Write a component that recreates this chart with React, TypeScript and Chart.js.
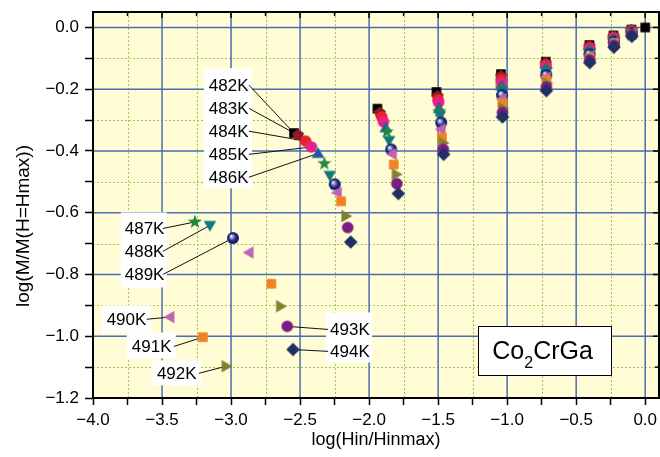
import { useEffect, useRef } from 'react';
import { Chart, registerables } from 'chart.js';

Chart.register(...registerables);

const FONT = "'Liberation Sans', Arial, sans-serif";

// Axis ticks (log units)
const X_TICKS = [-4, -3.75, -3.5, -3.25, -3, -2.75, -2.5, -2.25, -2, -1.75, -1.5, -1.25, -1, -0.75, -0.5, -0.25, 0];
const X_LABELLED = [-4, -3.5, -3, -2.5, -2, -1.5, -1, -0.5, 0];
const Y_TICKS = [0, -0.1, -0.2, -0.3, -0.4, -0.5, -0.6, -0.7, -0.8, -0.9, -1.0, -1.1, -1.2];
const Y_LABELLED = [0, -0.2, -0.4, -0.6, -0.8, -1.0, -1.2];

// Grid lines
const X_MAJOR_GRID = [-3.5, -3, -2.5, -2, -1.5, -1, -0.5, 0];
const X_MINOR_GRID = [-3.75, -3.25, -2.75, -2.25, -1.75, -1.25, -0.75, -0.25];
const Y_MAJOR_GRID = [0, -0.2, -0.4, -0.6, -0.8, -1.0];
const Y_MINOR_GRID = [-0.1, -0.3, -0.5, -0.7, -0.9, -1.1];

// [log(Hin/Hinmax), log(M/M(H=Hmax))] per temperature
const T482: [number, number][] = [[-2.544, -0.342], [-1.940, -0.263], [-1.512, -0.209], [-1.045, -0.151], [-0.720, -0.111], [-0.404, -0.057], [-0.230, -0.026], [-0.100, -0.007], [0, 0]];
const T483: [number, number][] = [[-2.515, -0.349], [-1.922, -0.277], [-1.504, -0.223], [-1.044, -0.158], [-0.720, -0.116], [-0.404, -0.061], [-0.229, -0.029], [-0.100, -0.009]];
const T484: [number, number][] = [[-2.460, -0.368], [-1.908, -0.290], [-1.500, -0.234], [-1.043, -0.168], [-0.720, -0.121], [-0.404, -0.065], [-0.229, -0.032], [-0.100, -0.011]];
const T485: [number, number][] = [[-2.418, -0.387], [-1.896, -0.306], [-1.497, -0.243], [-1.042, -0.180], [-0.719, -0.127], [-0.404, -0.069], [-0.228, -0.035], [-0.100, -0.013]];
const T486: [number, number][] = [[-2.370, -0.408], [-1.879, -0.325], [-1.494, -0.262], [-1.041, -0.190], [-0.719, -0.132], [-0.404, -0.073], [-0.228, -0.038], [-0.099, -0.015]];
const T487: [number, number][] = [[-3.262, -0.630], [-2.324, -0.441], [-1.872, -0.338], [-1.492, -0.272], [-1.040, -0.198], [-0.718, -0.137], [-0.404, -0.077], [-0.228, -0.040], [-0.099, -0.016]];
const T488: [number, number][] = [[-3.153, -0.641], [-2.285, -0.479], [-1.855, -0.366], [-1.487, -0.285], [-1.039, -0.207], [-0.718, -0.144], [-0.403, -0.082], [-0.227, -0.043], [-0.099, -0.018]];
const T489: [number, number][] = [[-2.986, -0.682], [-2.249, -0.508], [-1.840, -0.395], [-1.478, -0.308], [-1.037, -0.219], [-0.717, -0.155], [-0.403, -0.087], [-0.227, -0.046], [-0.098, -0.019]];
const T490: [number, number][] = [[-3.444, -0.938], [-2.871, -0.729], [-2.232, -0.535], [-1.833, -0.410], [-1.480, -0.330], [-1.037, -0.232], [-0.717, -0.162], [-0.403, -0.093], [-0.227, -0.049], [-0.098, -0.020]];
const T491: [number, number][] = [[-3.204, -1.003], [-2.708, -0.830], [-2.203, -0.563], [-1.821, -0.444], [-1.472, -0.357], [-1.035, -0.246], [-0.716, -0.171], [-0.402, -0.099], [-0.226, -0.053], [-0.098, -0.022]];
const T492: [number, number][] = [[-3.035, -1.097], [-2.640, -0.903], [-2.167, -0.611], [-1.802, -0.476], [-1.462, -0.374], [-1.030, -0.262], [-0.710, -0.181], [-0.398, -0.103], [-0.223, -0.056], [-0.096, -0.023]];
const T493: [number, number][] = [[-2.593, -0.968], [-2.155, -0.648], [-1.799, -0.506], [-1.462, -0.395], [-1.034, -0.276], [-0.716, -0.193], [-0.402, -0.106], [-0.226, -0.058], [-0.097, -0.024]];
const T494: [number, number][] = [[-2.551, -1.043], [-2.133, -0.695], [-1.788, -0.538], [-1.460, -0.411], [-1.034, -0.290], [-0.716, -0.205], [-0.402, -0.114], [-0.226, -0.064], [-0.097, -0.029]];

type Shape = 'square' | 'pentagon' | 'circle' | 'triUp' | 'triDown' | 'triLeft' | 'triRight' | 'star' | 'sphere' | 'diamond';

const SERIES: { name: string; color: string; shape: Shape; points: [number, number][] }[] = [
  { name: '482K', color: '#000000', shape: 'square', points: T482 },
  { name: '483K', color: '#8a1c24', shape: 'pentagon', points: T483 },
  { name: '484K', color: '#e8232a', shape: 'circle', points: T484 },
  { name: '485K', color: '#e8208a', shape: 'circle', points: T485 },
  { name: '486K', color: '#1f5aa8', shape: 'triUp', points: T486 },
  { name: '487K', color: '#1f8a3e', shape: 'star', points: T487 },
  { name: '488K', color: '#13787a', shape: 'triDown', points: T488 },
  { name: '489K', color: '#1e2a82', shape: 'sphere', points: T489 },
  { name: '490K', color: '#c062b0', shape: 'triLeft', points: T490 },
  { name: '491K', color: '#f08222', shape: 'square', points: T491 },
  { name: '492K', color: '#838032', shape: 'triRight', points: T492 },
  { name: '493K', color: '#7a1c82', shape: 'circle', points: T493 },
  { name: '494K', color: '#1f3064', shape: 'diamond', points: T494 },
];

// Label boxes [x0, yTop, x1, yBottom] and label rows, in axis units
const LABEL_GROUPS: { box: [number, number, number, number]; rows: { series: string; text: [number, number]; from: [number, number] }[] }[] = [
  {
    box: [-3.197, -0.132, -2.848, -0.521],
    rows: [
      { series: '482K', text: [-3.161, -0.187], from: [-2.870, -0.187] },
      { series: '483K', text: [-3.161, -0.262], from: [-2.870, -0.262] },
      { series: '484K', text: [-3.161, -0.336], from: [-2.870, -0.336] },
      { series: '485K', text: [-3.161, -0.411], from: [-2.870, -0.411] },
      { series: '486K', text: [-3.161, -0.485], from: [-2.870, -0.485] },
    ],
  },
  {
    box: [-3.799, -0.599, -3.465, -0.842],
    rows: [
      { series: '487K', text: [-3.770, -0.651], from: [-3.494, -0.651] },
      { series: '488K', text: [-3.770, -0.725], from: [-3.494, -0.725] },
      { series: '489K', text: [-3.770, -0.800], from: [-3.494, -0.800] },
    ],
  },
  { box: [-3.936, -0.900, -3.581, -0.988], rows: [{ series: '490K', text: [-3.901, -0.945], from: [-3.611, -0.945] }] },
  { box: [-3.755, -0.988, -3.400, -1.072], rows: [{ series: '491K', text: [-3.719, -1.033], from: [-3.414, -1.033] }] },
  { box: [-3.573, -1.078, -3.218, -1.159], rows: [{ series: '492K', text: [-3.537, -1.120], from: [-3.233, -1.120] }] },
  {
    box: [-2.312, -0.923, -1.978, -1.085],
    rows: [
      { series: '493K', text: [-2.283, -0.978], from: [-2.297, -0.978] },
      { series: '494K', text: [-2.283, -1.049], from: [-2.297, -1.049] },
    ],
  },
];

const COMPOUND_BOX: [number, number, number, number] = [-1.209, -0.968, -0.244, -1.127];

function makeMarker(shape: Shape, color: string): HTMLCanvasElement {
  const size = 18;
  const c = document.createElement('canvas');
  c.width = size;
  c.height = size;
  const ctx = c.getContext('2d')!;
  ctx.translate(size / 2, size / 2);
  ctx.fillStyle = color;
  const poly = (r: number, n: number, start: number) => {
    ctx.beginPath();
    for (let i = 0; i < n; i++) {
      const a = start + (i * 2 * Math.PI) / n;
      const px = r * Math.cos(a);
      const py = r * Math.sin(a);
      if (i === 0) ctx.moveTo(px, py);
      else ctx.lineTo(px, py);
    }
    ctx.closePath();
    ctx.fill();
  };
  switch (shape) {
    case 'square':
      ctx.fillRect(-4.8, -4.8, 9.6, 9.6);
      break;
    case 'pentagon':
      poly(6.3, 5, -Math.PI / 2);
      break;
    case 'circle':
      ctx.beginPath();
      ctx.arc(0, 0, 5.8, 0, Math.PI * 2);
      ctx.fill();
      break;
    case 'triUp':
      ctx.translate(0, 1);
      poly(7.2, 3, -Math.PI / 2);
      break;
    case 'triDown':
      ctx.translate(0, -1);
      poly(7.2, 3, Math.PI / 2);
      break;
    case 'triLeft':
      ctx.translate(1, 0);
      poly(7.2, 3, Math.PI);
      break;
    case 'triRight':
      ctx.translate(-1, 0);
      poly(7.2, 3, 0);
      break;
    case 'star': {
      ctx.beginPath();
      for (let i = 0; i < 10; i++) {
        const r = i % 2 === 0 ? 7.4 : 3.0;
        const a = -Math.PI / 2 + (i * Math.PI) / 5;
        const px = r * Math.cos(a);
        const py = r * Math.sin(a);
        if (i === 0) ctx.moveTo(px, py);
        else ctx.lineTo(px, py);
      }
      ctx.closePath();
      ctx.fill();
      break;
    }
    case 'sphere': {
      const g = ctx.createRadialGradient(-1.8, -2, 0.3, 0, 0, 6);
      g.addColorStop(0, '#ffffff');
      g.addColorStop(0.25, '#8c94d0');
      g.addColorStop(0.6, color);
      g.addColorStop(1, '#10185a');
      ctx.fillStyle = g;
      ctx.beginPath();
      ctx.arc(0, 0, 6, 0, Math.PI * 2);
      ctx.fill();
      break;
    }
    case 'diamond':
      poly(6.8, 4, -Math.PI / 2);
      break;
  }
  return c;
}

const near = (a: number, list: number[]) => list.some((v) => Math.abs(v - a) < 1e-9);
const fmt = (v: number) => v.toFixed(1).replace('-', '\u2212');

const decorPlugin = {
  id: 'decor',
  beforeDraw(chart: any) {
    const { ctx, chartArea: a } = chart;
    ctx.save();
    ctx.fillStyle = '#ffffff';
    ctx.fillRect(0, 0, chart.width, chart.height);
    ctx.fillStyle = '#fffcd6';
    ctx.fillRect(a.left, a.top, a.right - a.left, a.bottom - a.top);
    ctx.restore();
  },
  beforeDatasetsDraw(chart: any) {
    const { ctx, chartArea: a, scales } = chart;
    const xs = scales.x;
    const ys = scales.y;
    ctx.save();
    // minor grid
    ctx.strokeStyle = '#94cc55';
    ctx.lineWidth = 1;
    ctx.setLineDash([2, 2]);
    for (const v of X_MINOR_GRID) {
      const px = Math.round(xs.getPixelForValue(v)) + 0.5;
      ctx.beginPath();
      ctx.moveTo(px, a.top);
      ctx.lineTo(px, a.bottom);
      ctx.stroke();
    }
    for (const v of Y_MINOR_GRID) {
      const py = Math.round(ys.getPixelForValue(v)) + 0.5;
      ctx.beginPath();
      ctx.moveTo(a.left, py);
      ctx.lineTo(a.right, py);
      ctx.stroke();
    }
    // major grid
    ctx.setLineDash([]);
    ctx.strokeStyle = '#4a6db0';
    ctx.lineWidth = 1.5;
    for (const v of X_MAJOR_GRID) {
      const px = xs.getPixelForValue(v);
      ctx.beginPath();
      ctx.moveTo(px, a.top);
      ctx.lineTo(px, a.bottom);
      ctx.stroke();
    }
    for (const v of Y_MAJOR_GRID) {
      const py = ys.getPixelForValue(v);
      ctx.beginPath();
      ctx.moveTo(a.left, py);
      ctx.lineTo(a.right, py);
      ctx.stroke();
    }

    // label boxes with leader lines
    ctx.font = `17px ${FONT}`;
    ctx.textBaseline = 'middle';
    ctx.textAlign = 'left';
    for (const g of LABEL_GROUPS) {
      const x0 = xs.getPixelForValue(g.box[0]);
      const y0 = ys.getPixelForValue(g.box[1]);
      const x1 = xs.getPixelForValue(g.box[2]);
      const y1 = ys.getPixelForValue(g.box[3]);
      ctx.fillStyle = '#ffffff';
      ctx.fillRect(x0, y0, x1 - x0, y1 - y0);
    }
    for (const g of LABEL_GROUPS) {
      for (const r of g.rows) {
        const s = SERIES.find((d) => d.name === r.series)!;
        const target = s.points[0];
        ctx.strokeStyle = '#111111';
        ctx.lineWidth = 1;
        ctx.beginPath();
        ctx.moveTo(xs.getPixelForValue(r.from[0]), ys.getPixelForValue(r.from[1]));
        ctx.lineTo(xs.getPixelForValue(target[0]), ys.getPixelForValue(target[1]));
        ctx.stroke();
        ctx.fillStyle = '#000000';
        ctx.fillText(r.series, xs.getPixelForValue(r.text[0]), ys.getPixelForValue(r.text[1]) + 1);
      }
    }
    ctx.restore();
  },
  afterDatasetsDraw(chart: any) {
    const { ctx, chartArea: a, scales } = chart;
    const xs = scales.x;
    const ys = scales.y;
    ctx.save();
    // frame
    ctx.strokeStyle = '#000000';
    ctx.lineWidth = 2;
    ctx.strokeRect(a.left, a.top, a.right - a.left, a.bottom - a.top);
    // inward ticks on top and right
    ctx.lineWidth = 1.5;
    for (const v of X_TICKS) {
      const px = xs.getPixelForValue(v);
      ctx.beginPath();
      ctx.moveTo(px, a.top);
      ctx.lineTo(px, a.top + (near(v, X_LABELLED) ? 6 : 4));
      ctx.stroke();
    }
    for (const v of Y_TICKS) {
      const py = ys.getPixelForValue(v);
      ctx.beginPath();
      ctx.moveTo(a.right, py);
      ctx.lineTo(a.right - (near(v, Y_LABELLED) ? 6 : 4), py);
      ctx.stroke();
    }
    // compound name
    const bx0 = xs.getPixelForValue(COMPOUND_BOX[0]);
    const by0 = ys.getPixelForValue(COMPOUND_BOX[1]);
    const bx1 = xs.getPixelForValue(COMPOUND_BOX[2]);
    const by1 = ys.getPixelForValue(COMPOUND_BOX[3]);
    ctx.fillStyle = '#ffffff';
    ctx.fillRect(bx0, by0, bx1 - bx0, by1 - by0);
    ctx.lineWidth = 1;
    ctx.strokeRect(Math.round(bx0) + 0.5, Math.round(by0) + 0.5, Math.round(bx1 - bx0), Math.round(by1 - by0));
    ctx.fillStyle = '#000000';
    ctx.textBaseline = 'alphabetic';
    ctx.textAlign = 'left';
    const base = (by0 + by1) / 2 + 8;
    let tx = bx0 + 14;
    ctx.font = `25px ${FONT}`;
    ctx.fillText('Co', tx, base);
    tx += ctx.measureText('Co').width;
    ctx.font = `16px ${FONT}`;
    ctx.fillText('2', tx, base + 9);
    tx += ctx.measureText('2').width;
    ctx.font = `25px ${FONT}`;
    ctx.fillText('CrGa', tx, base);
    ctx.restore();
  },
  afterDraw(chart: any) {
    const { ctx, chartArea: a } = chart;
    ctx.save();
    ctx.fillStyle = '#000000';
    ctx.font = `18px ${FONT}`;
    ctx.textAlign = 'center';
    ctx.textBaseline = 'middle';
    ctx.fillText('log(Hin/Hinmax)', (a.left + a.right) / 2, 440);
    ctx.font = `19px ${FONT}`;
    ctx.translate(24, 226);
    ctx.rotate(-Math.PI / 2);
    ctx.fillText('log(M/M(H=Hmax))', 0, 0);
    ctx.restore();
  },
};

export default function App() {
  const canvasRef = useRef<HTMLCanvasElement | null>(null);

  useEffect(() => {
    const canvas = canvasRef.current;
    if (!canvas) return;
    // higher temperatures are stacked above lower ones
    const datasets = SERIES.map((s, i) => ({
      label: s.name,
      data: s.points.map(([x, y]) => ({ x, y })),
      pointStyle: makeMarker(s.shape, s.color),
      pointRadius: 6,
      showLine: false,
      order: -i,
      backgroundColor: s.color,
      borderColor: s.color,
    }));

    const chart = new Chart(canvas, {
      type: 'scatter',
      data: { datasets },
      options: {
        responsive: false,
        animation: false,
        devicePixelRatio: 1,
        layout: { autoPadding: false, padding: { top: 12, right: 1, left: 0, bottom: 0 } },
        plugins: { legend: { display: false }, tooltip: { enabled: false } },
        scales: {
          x: {
            type: 'linear',
            min: -4,
            max: 0.1,
            afterBuildTicks: (axis: any) => {
              axis.ticks = X_TICKS.map((value) => ({ value }));
            },
            afterFit: (scale: any) => {
              scale.height = 59;
              scale.paddingLeft = 0;
              scale.paddingRight = 0;
            },
            border: { display: false },
            grid: { drawOnChartArea: false, drawTicks: true, tickLength: 7, tickColor: '#000000', tickWidth: 1.5 },
            ticks: {
              autoSkip: false,
              maxRotation: 0,
              padding: 5,
              color: '#000000',
              font: { family: FONT, size: 17 },
              callback: (v: any) => (near(Number(v), X_LABELLED) ? fmt(Number(v)) : ''),
            },
          },
          y: {
            type: 'linear',
            min: -1.2,
            max: 0.05,
            afterBuildTicks: (axis: any) => {
              axis.ticks = Y_TICKS.map((value) => ({ value }));
            },
            afterFit: (scale: any) => {
              scale.width = 93;
              scale.paddingTop = 0;
              scale.paddingBottom = 0;
            },
            border: { display: false },
            grid: { drawOnChartArea: false, drawTicks: true, tickLength: 8, tickColor: '#000000', tickWidth: 1.5 },
            ticks: {
              autoSkip: false,
              padding: 6,
              color: '#000000',
              font: { family: FONT, size: 17 },
              callback: (v: any) => (near(Number(v), Y_LABELLED) ? fmt(Number(v)) : ''),
            },
          },
        },
      },
      plugins: [decorPlugin],
    } as any);

    return () => chart.destroy();
  }, []);

  return (
    <div style={{ position: 'fixed', left: 0, top: 0, width: 660, height: 457, background: '#ffffff' }}>
      <canvas ref={canvasRef} width={660} height={457} style={{ display: 'block' }} />
    </div>
  );
}
